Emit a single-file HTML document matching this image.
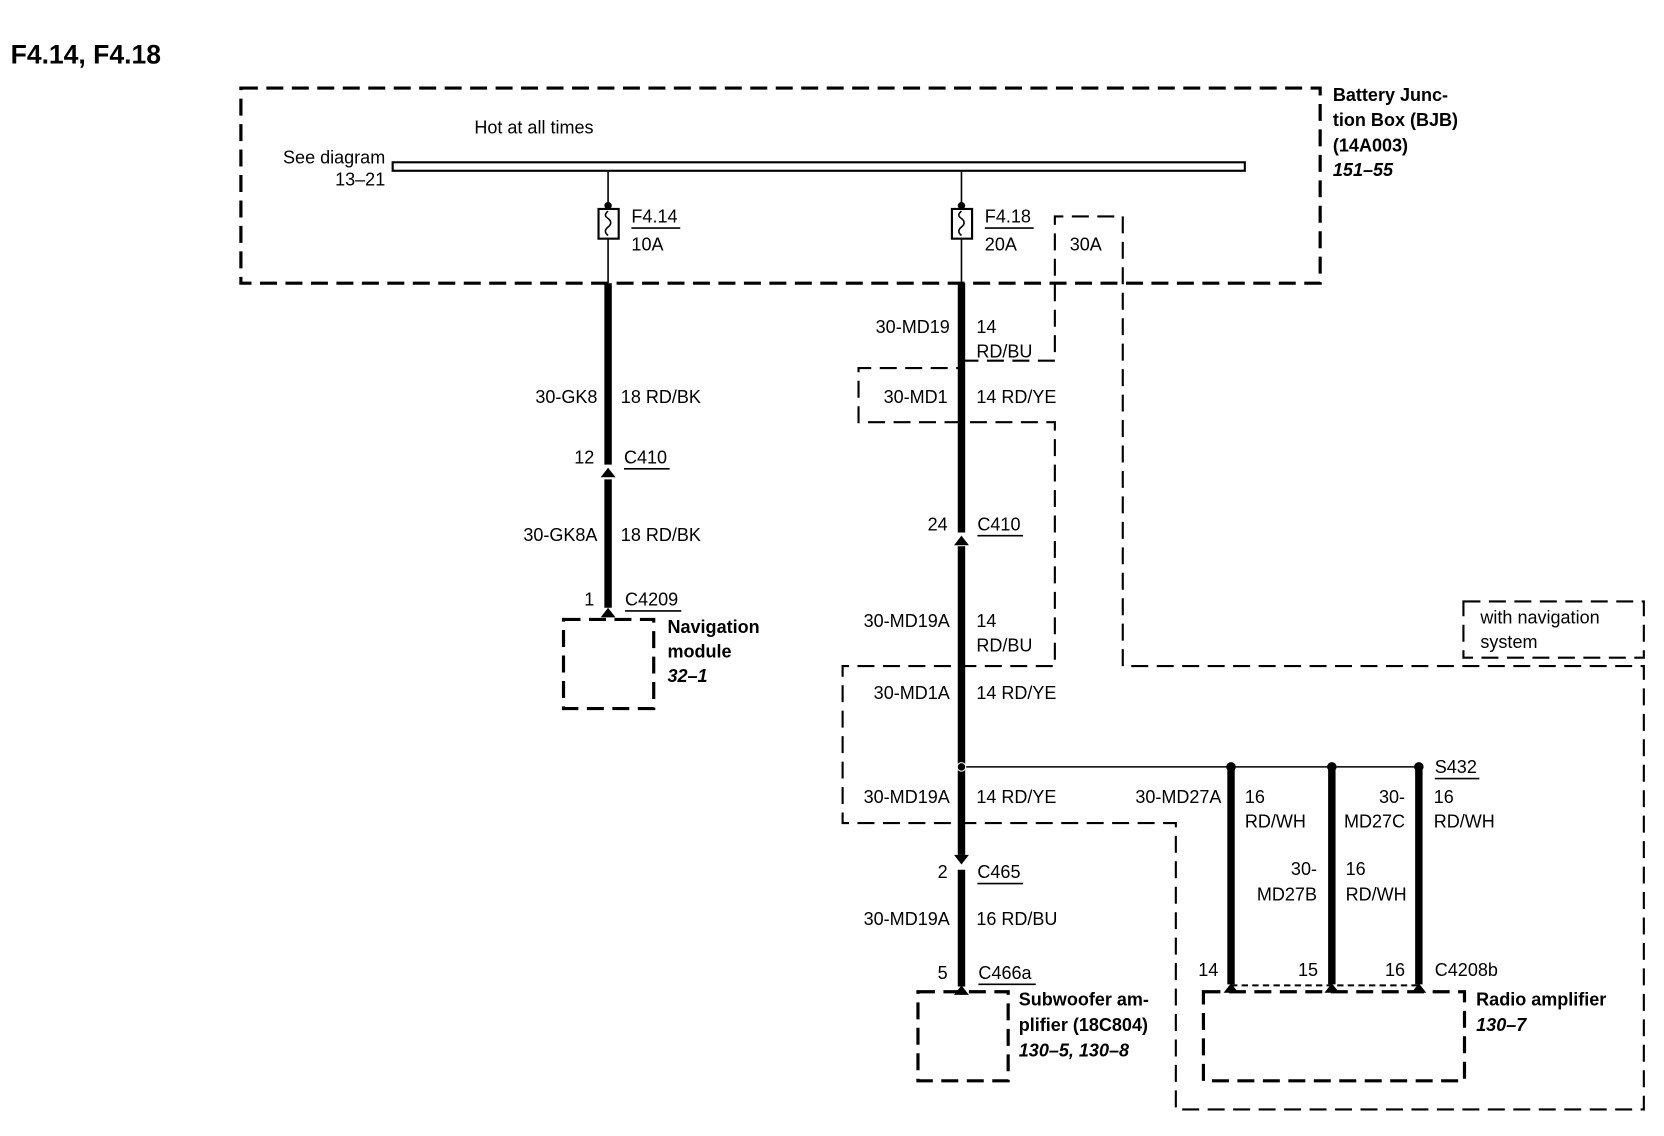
<!DOCTYPE html>
<html><head><meta charset="utf-8"><style>
html,body{margin:0;padding:0;background:#fff}
svg{display:block}
text{font-family:"Liberation Sans",sans-serif;font-size:17px;fill:#000}
.b{font-weight:bold}.i{font-style:italic;font-weight:bold}
.r{text-anchor:end}
.d{fill:none;stroke:#000;stroke-width:3;stroke-dasharray:16 8}
.dt{fill:none;stroke:#000;stroke-width:1.8;stroke-dasharray:14 8}
.w{stroke:#000;stroke-width:7;fill:none}
.t{stroke:#000;stroke-width:1.5;fill:none}
</style></head><body>
<svg width="1664" height="1136" viewBox="0 0 1568 1071" preserveAspectRatio="none" xmlns="http://www.w3.org/2000/svg">
<text x="10" y="60" class="b" style="font-size:25px">F4.14, F4.18</text>
<rect x="227" y="83" width="1017" height="184" class="d"/>
<text x="447" y="126">Hot at all times</text>
<text x="363" y="154" class="r">See diagram</text>
<text x="363" y="175" class="r">13–21</text>
<rect x="370" y="153" width="803" height="8" fill="none" stroke="#000" stroke-width="2"/>
<text x="1256" y="95" class="b">Battery Junc-</text>
<text x="1256" y="119" class="b">tion Box (BJB)</text>
<text x="1256" y="143" class="b">(14A003)</text>
<text x="1256" y="166" class="i">151–55</text>
<!-- fuse 1 -->
<line x1="573" y1="161" x2="573" y2="267" class="t"/>
<circle cx="573" cy="194" r="3.5"/>
<rect x="564" y="197" width="19" height="28" fill="#fff" stroke="#000" stroke-width="2"/>
<path d="M573 199 q-5 4 0 7 q5 4 0 8 q-5 4 0 8" class="t"/>
<text x="595" y="210">F4.14</text><line x1="595" y1="215" x2="641" y2="215" class="t"/>
<text x="595" y="236">10A</text>
<!-- fuse 2 -->
<line x1="906" y1="161" x2="906" y2="267" class="t"/>
<circle cx="906" cy="194" r="3.5"/>
<rect x="897" y="197" width="19" height="28" fill="#fff" stroke="#000" stroke-width="2"/>
<path d="M906 199 q-5 4 0 7 q5 4 0 8 q-5 4 0 8" class="t"/>
<text x="928" y="210">F4.18</text><line x1="928" y1="215" x2="974" y2="215" class="t"/>
<text x="928" y="236">20A</text>
<text x="1008" y="236">30A</text>
<!-- option dashed outlines -->
<path d="M906 340 H994 V204 H1058 V628 H1549 V1046 H1108 V776 H794 V628 H994 V398 H809 V347 H906" class="d" style="stroke-width:2"/>
<rect x="1379" y="567" width="170" height="53" class="d" style="stroke-width:2"/>
<text x="1395" y="588">with navigation</text>
<text x="1395" y="611">system</text>
<!-- left wire -->
<line x1="573" y1="267" x2="573" y2="438" class="w"/>
<line x1="573" y1="452" x2="573" y2="573" class="w"/>
<path d="M566 450 L573 441 L580 450 Z"/>
<path d="M566 582 L573 573 L580 582 Z"/>
<text x="563" y="380" class="r">30-GK8</text><text x="585" y="380">18 RD/BK</text>
<text x="560" y="437" class="r">12</text><text x="588" y="437">C410</text><line x1="588" y1="442" x2="631" y2="442" class="t"/>
<text x="563" y="510" class="r">30-GK8A</text><text x="585" y="510">18 RD/BK</text>
<text x="560" y="571" class="r">1</text><text x="589" y="571">C4209</text><line x1="589" y1="576" x2="642" y2="576" class="t"/>
<rect x="531" y="584" width="85" height="84" class="d"/>
<text x="629" y="597" class="b">Navigation</text>
<text x="629" y="620" class="b">module</text>
<text x="629" y="643" class="i">32–1</text>
<!-- middle wire -->
<line x1="906" y1="267" x2="906" y2="502" class="w"/>
<line x1="906" y1="515" x2="906" y2="806" class="w"/>
<path d="M899 514 L906 505 L913 514 Z"/>
<path d="M899 806 L906 815 L913 806 Z"/>
<line x1="906" y1="820" x2="906" y2="930" class="w"/>
<path d="M899 938 L906 929 L913 938 Z"/>
<text x="895" y="314" class="r">30-MD19</text><text x="920" y="314">14</text><text x="920" y="337">RD/BU</text>
<text x="893" y="380" class="r">30-MD1</text><text x="920" y="380">14 RD/YE</text>
<text x="893" y="500" class="r">24</text><text x="921" y="500">C410</text><line x1="921" y1="505" x2="964" y2="505" class="t"/>
<text x="895" y="591" class="r">30-MD19A</text><text x="920" y="591">14</text><text x="920" y="614">RD/BU</text>
<text x="895" y="659" class="r">30-MD1A</text><text x="920" y="659">14 RD/YE</text>
<line x1="906" y1="723" x2="1337" y2="723" class="t"/>
<circle cx="906" cy="723" r="4" fill="#000" stroke="#fff" stroke-width="1"/>
<circle cx="1160" cy="723" r="4.5"/><circle cx="1255" cy="723" r="4.5"/><circle cx="1337" cy="723" r="4.5"/>
<text x="895" y="757" class="r">30-MD19A</text><text x="920" y="757">14 RD/YE</text>
<text x="893" y="828" class="r">2</text><text x="921" y="828">C465</text><line x1="921" y1="833" x2="964" y2="833" class="t"/>
<text x="895" y="872" class="r">30-MD19A</text><text x="920" y="872">16 RD/BU</text>
<text x="893" y="923" class="r">5</text><text x="922" y="923">C466a</text><line x1="922" y1="928" x2="976" y2="928" class="t"/>
<rect x="865" y="935" width="85" height="84" class="d"/>
<text x="960" y="948" class="b">Subwoofer am-</text>
<text x="960" y="972" class="b">plifier (18C804)</text>
<text x="960" y="996" class="i">130–5, 130–8</text>
<!-- right wires -->
<line x1="1160" y1="723" x2="1160" y2="928" class="w"/>
<line x1="1255" y1="723" x2="1255" y2="928" class="w"/>
<line x1="1337" y1="723" x2="1337" y2="928" class="w"/>
<path d="M1153 936 L1160 927 L1167 936 Z"/><path d="M1248 936 L1255 927 L1262 936 Z"/><path d="M1330 936 L1337 927 L1344 936 Z"/>
<line x1="1160" y1="929" x2="1337" y2="929" class="dt" style="stroke-dasharray:6 4"/>
<text x="1352" y="729">S432</text><line x1="1352" y1="734" x2="1394" y2="734" class="t"/>
<text x="1151" y="757" class="r">30-MD27A</text><text x="1173" y="757">16</text><text x="1173" y="780">RD/WH</text>
<text x="1324" y="757" class="r">30-</text><text x="1324" y="780" class="r">MD27C</text>
<text x="1351" y="757">16</text><text x="1351" y="780">RD/WH</text>
<text x="1241" y="825" class="r">30-</text><text x="1241" y="849" class="r">MD27B</text>
<text x="1268" y="825">16</text><text x="1268" y="849">RD/WH</text>
<text x="1148" y="920" class="r">14</text><text x="1242" y="920" class="r">15</text><text x="1324" y="920" class="r">16</text>
<text x="1352" y="920">C4208b</text>
<rect x="1134" y="935" width="246" height="84" class="d"/>
<text x="1391" y="948" class="b">Radio amplifier</text>
<text x="1391" y="972" class="i">130–7</text>
</svg>
</body></html>
